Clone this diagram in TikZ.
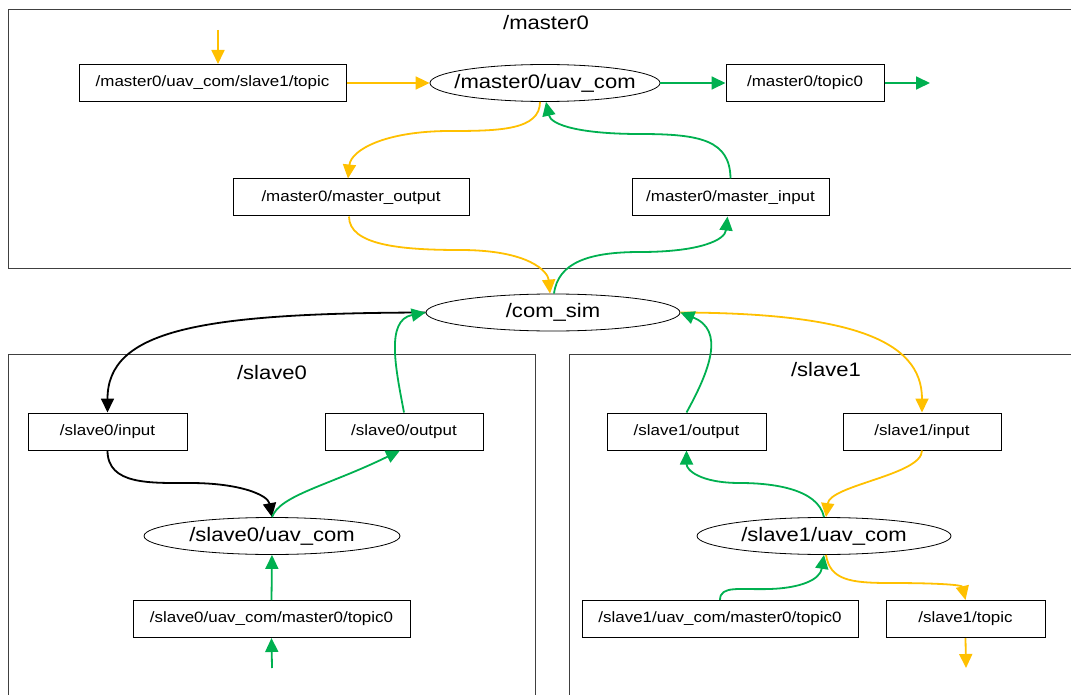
\documentclass[tikz,border=0pt]{standalone}
\usepackage{fontspec}
\setmainfont{Liberation Sans}[FakeStretch=1.13]
\usetikzlibrary{arrows.meta,shapes.geometric}
\definecolor{orng}{RGB}{255,192,0}
\definecolor{grn}{RGB}{0,176,80}
\tikzset{
  every node/.style={font=\fontsize{15}{18}\selectfont},
  boxnode/.style={draw=black, line width=1pt, minimum height=37pt, inner sep=0pt},
  ellnode/.style={draw=black, line width=0.8pt, ellipse, minimum height=37pt, inner xsep=-40pt, inner ysep=-4pt, font=\fontsize{19.5}{22}\selectfont},
  cluster/.style={draw=black!75, line width=1pt},
  ctitle/.style={font=\fontsize{19.5}{22}\selectfont},
  edge/.style={line width=1.8pt, -{Triangle[length=14pt,width=13pt]}},
  or/.style={edge, draw=orng},
  gr/.style={edge, draw=grn},
  bk/.style={edge, draw=black},
}
\begin{document}
\begin{tikzpicture}[x=1pt,y=-1pt]
\useasboundingbox (0,0) rectangle (1071,695);
\clip (0,0) rectangle (1071,695);
% clusters
\draw[cluster] (8,10) rectangle (1080,268);
\node[ctitle] (tmaster) at (546,23) {/master0};
\draw[cluster] (8,354) rectangle (535,700);
\node[ctitle] (tslave0) at (272,373) {/slave0};
\draw[cluster] (569,354) rectangle (1080,700);
\node[ctitle] (tslave1) at (826,370) {/slave1};

% master0 nodes
\node[boxnode, minimum width=267pt] (mtin) at (212.5,83) {/master0/uav\_com/slave1/topic};
\node[ellnode, minimum width=230pt] (muav) at (545,83) {/master0/uav\_com};
\node[boxnode, minimum width=158pt] (mtopic) at (805,83) {/master0/topic0};
\node[boxnode, minimum width=236pt] (mout) at (351,197.5) {/master0/master\_output};
\node[boxnode, minimum width=197pt] (min) at (730.5,197.5) {/master0/master\_input};
\coordinate (mtinsrc) at (218,30);
\coordinate (mtopicdst) at (930,83);

% com_sim
\node[ellnode, minimum width=254pt] (com) at (553,312.5) {/com\_sim};

% slave0 nodes
\node[boxnode, minimum width=159pt] (s0in) at (107.5,431.5) {/slave0/input};
\node[boxnode, minimum width=158pt] (s0out) at (404,431.5) {/slave0/output};
\node[ellnode, minimum width=256pt] (s0uav) at (272,536) {/slave0/uav\_com};
\node[boxnode, minimum width=277pt] (s0t) at (271.5,619) {/slave0/uav\_com/master0/topic0};
\coordinate (s0tsrc) at (272,668);

% slave1 nodes
\node[boxnode, minimum width=159pt] (s1out) at (686.5,431.5) {/slave1/output};
\node[boxnode, minimum width=158pt] (s1in) at (922,431.5) {/slave1/input};
\node[ellnode, minimum width=254pt] (s1uav) at (824,536) {/slave1/uav\_com};
\node[boxnode, minimum width=276pt] (s1t) at (720,619) {/slave1/uav\_com/master0/topic0};
\node[boxnode, minimum width=159pt] (s1topic) at (965.5,619) {/slave1/topic};
\coordinate (s1tsrc) at (720,666);
\coordinate (s1topicdst) at (966,668);

% master0 edges
\draw[or] (mtinsrc) -- (mtinsrc |- mtin.north);
\draw[or] (mtin.east) -- (muav.west);
\draw[gr] (muav.east) -- (mtopic.west);
\draw[gr] (mtopic.east) -- (mtopicdst);
\draw[or] ([xshift=-5pt]muav.south) .. controls +(0,28) and (500,131) .. (450,131)
   .. controls (385,131) and (351,150) .. ([xshift=-3pt]mout.north);
\draw[gr] (min.north) .. controls (730,140) and (700,134) .. (640,134)
   .. controls (580,134) and (551,125) .. ([xshift=1pt]muav.south);
\draw[or] ([xshift=-2pt]mout.south) .. controls (349,245) and (400,250) .. (460,250)
   .. controls (530,250) and (548,272) .. ([xshift=-3pt]com.north);
\draw[gr] ([xshift=1pt]com.north) .. controls (558,262) and (590,252) .. (640,252)
   .. controls (700,252) and (725,240) .. ([xshift=-3pt]min.south);

% com_sim edges
\draw[bk] (com.west) .. controls (200,313) and (107.5,330) .. (s0in.north);
\draw[gr] (s0out.north) .. controls (396,370) and (385,320) .. (com.west);
\draw[or] (com.east) .. controls (850,313) and (922,340) .. (s1in.north);
\draw[gr] (s1out.north) .. controls (710,370) and (725,330) .. (com.east);

% slave0 edges
\draw[bk] (s0in.south) .. controls (107.5,485) and (150,483) .. (190,483)
   .. controls (240,483) and (268,495) .. (s0uav.north);
\draw[gr] (s0uav.north) .. controls (280,495) and (330,485) .. ([xshift=-4pt]s0out.south);
\draw[gr] (s0t.north) -- (s0uav.south);
\draw[gr] (s0tsrc) -- (s0t.south);

% slave1 edges
\draw[gr] (s1uav.north) .. controls (818,488) and (770,483) .. (740,483)
   .. controls (700,483) and (686.5,470) .. (s1out.south);
\draw[or] (s1in.south) .. controls (922,475) and (830,485) .. ([xshift=2pt]s1uav.north);
\draw[gr] (s1t.north) .. controls (720,585) and (740,590) .. (770,589)
   .. controls (800,588) and (820,580) .. (s1uav.south);
\draw[or] ([xshift=2pt]s1uav.south) .. controls (830,580) and (850,583) .. (890,583)
   .. controls (940,583) and (962,585) .. (s1topic.north);
\draw[or] (s1topic.south) -- (s1topicdst);
\end{tikzpicture}
\end{document}
